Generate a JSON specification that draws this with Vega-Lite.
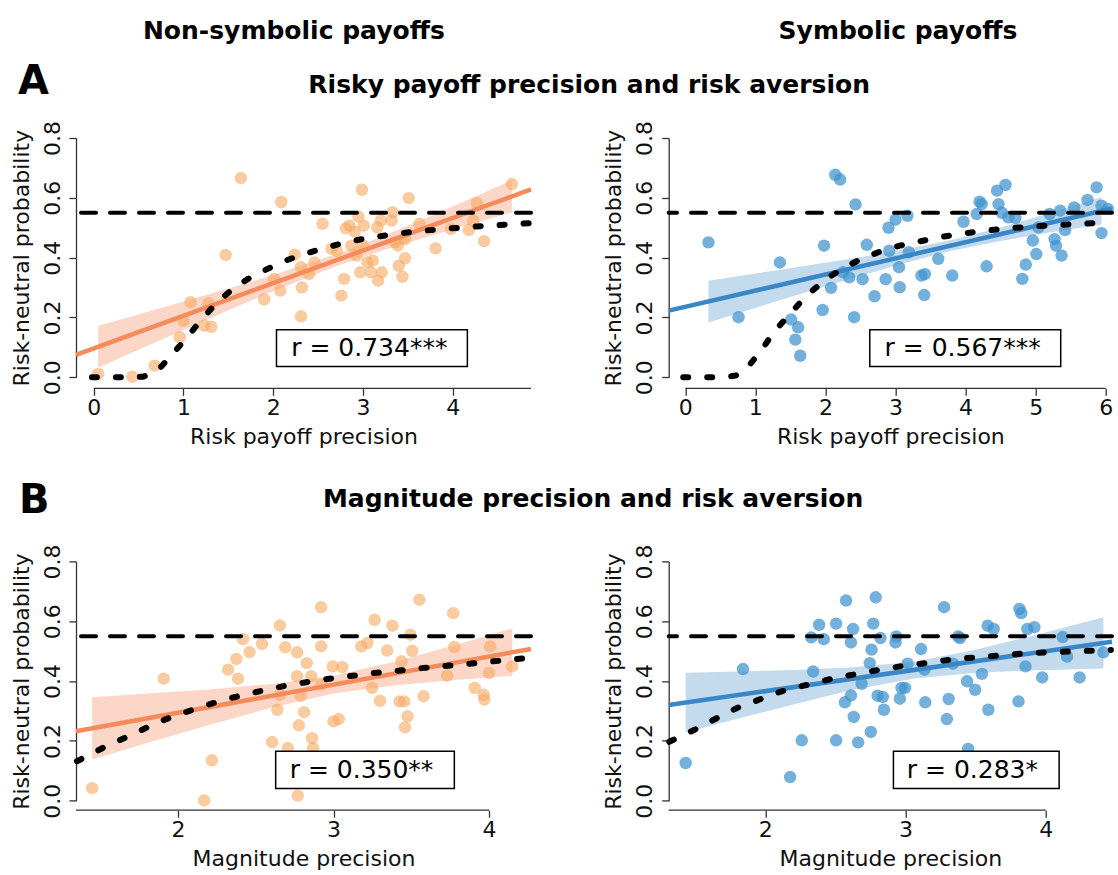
{
"$schema": "https://vega.github.io/schema/vega-lite/v6.json",
"usermeta": {"embedOptions": {"actions": false}},
"background": "white",
"padding": {"left": 9, "top": 18, "right": 0, "bottom": 0},
"autosize": {"type": "pad"},
"bounds": "flush",
"columns": 2,
"spacing": {"row": 183.4, "column": 137.7},
"config": {
  "view": {"stroke": null},
  "font": "DejaVu Sans",
  "text": {"font": "DejaVu Sans", "color": "black"},
  "axis": {"grid": false, "labelFont": "DejaVu Sans", "titleFont": "DejaVu Sans", "labelFontSize": 22, "titleFontSize": 22, "titleFontWeight": "normal", "labelColor": "#111", "titleColor": "#111", "domainColor": "#333", "tickColor": "#333", "domainWidth": 1.3, "tickWidth": 1.3, "tickSize": 7, "labelFlush": false, "labelOverlap": false},
  "axisY": {"labelAngle": 270, "labelAlign": "center", "labelBaseline": "alphabetic", "labelPadding": 10, "titlePadding": 13, "titleBaseline": "alphabetic", "format": ".1f"},
  "axisX": {"domain": false, "labelPadding": 2, "titlePadding": 8, "format": "d"}
},
"datasets": {
  "AL_pts": [{"x":0.05,"y":0.011},{"x":0.43,"y":0.002},{"x":0.68,"y":0.039},{"x":0.96,"y":0.134},{"x":1.00,"y":0.189},{"x":1.08,"y":0.251},{"x":1.23,"y":0.173},{"x":1.31,"y":0.169},{"x":1.28,"y":0.248},{"x":1.47,"y":0.409},{"x":1.64,"y":0.666},{"x":1.90,"y":0.261},{"x":2.01,"y":0.329},{"x":2.08,"y":0.290},{"x":2.09,"y":0.586},{"x":2.24,"y":0.410},{"x":2.31,"y":0.368},{"x":2.32,"y":0.300},{"x":2.31,"y":0.204},{"x":2.40,"y":0.345},{"x":2.46,"y":0.384},{"x":2.55,"y":0.513},{"x":2.71,"y":0.423},{"x":2.76,"y":0.273},{"x":2.79,"y":0.329},{"x":2.81,"y":0.498},{"x":2.85,"y":0.507},{"x":2.91,"y":0.487},{"x":2.93,"y":0.407},{"x":2.95,"y":0.537},{"x":2.97,"y":0.351},{"x":2.99,"y":0.627},{"x":3.01,"y":0.507},{"x":3.00,"y":0.440},{"x":3.05,"y":0.384},{"x":3.09,"y":0.351},{"x":3.11,"y":0.390},{"x":3.17,"y":0.323},{"x":3.16,"y":0.501},{"x":3.20,"y":0.524},{"x":3.21,"y":0.351},{"x":3.32,"y":0.524},{"x":3.33,"y":0.552},{"x":3.36,"y":0.451},{"x":3.39,"y":0.440},{"x":3.40,"y":0.373},{"x":3.44,"y":0.336},{"x":3.47,"y":0.398},{"x":3.47,"y":0.462},{"x":3.51,"y":0.599},{"x":3.63,"y":0.513},{"x":3.81,"y":0.431},{"x":3.98,"y":0.496},{"x":4.18,"y":0.492},{"x":4.27,"y":0.582},{"x":4.23,"y":0.524},{"x":4.35,"y":0.455},{"x":4.66,"y":0.646},{"x":2.87,"y":0.44},{"x":2.65,"y":0.43}],
  "AL_band": [{"x":0.05,"lo":0.032,"hi":0.172},{"x":0.5,"lo":0.092,"hi":0.210},{"x":1.0,"lo":0.158,"hi":0.253},{"x":1.5,"lo":0.224,"hi":0.297},{"x":2.0,"lo":0.288,"hi":0.342},{"x":2.7,"lo":0.371,"hi":0.411},{"x":3.2,"lo":0.422,"hi":0.469},{"x":3.7,"lo":0.468,"hi":0.532},{"x":4.2,"lo":0.512,"hi":0.598},{"x":4.66,"lo":0.551,"hi":0.658}],
  "AL_fit": [{"x":-0.197,"y":0.075},{"x":4.873,"y":0.628}],
  "AL_curve": [{"x":-0.02,"y":0},{"x":0.2,"y":0},{"x":0.4,"y":0},{"x":0.55,"y":0.002},{"x":0.65,"y":0.012},{"x":0.75,"y":0.035},{"x":0.88,"y":0.078},{"x":1.04,"y":0.134},{"x":1.2,"y":0.192},{"x":1.36,"y":0.246},{"x":1.54,"y":0.293},{"x":1.72,"y":0.329},{"x":1.9,"y":0.357},{"x":2.12,"y":0.388},{"x":2.32,"y":0.41},{"x":2.56,"y":0.431},{"x":2.77,"y":0.448},{"x":2.99,"y":0.462},{"x":3.25,"y":0.474},{"x":3.51,"y":0.485},{"x":3.75,"y":0.492},{"x":3.99,"y":0.498},{"x":4.25,"y":0.504},{"x":4.51,"y":0.509},{"x":4.74,"y":0.513},{"x":4.85,"y":0.515}],
  "AR_pts": [{"x":0.33,"y":0.451},{"x":0.76,"y":0.201},{"x":1.35,"y":0.384},{"x":1.51,"y":0.193},{"x":1.57,"y":0.126},{"x":1.61,"y":0.167},{"x":1.64,"y":0.072},{"x":1.96,"y":0.225},{"x":1.98,"y":0.440},{"x":2.08,"y":0.299},{"x":2.14,"y":0.677},{"x":2.21,"y":0.661},{"x":2.25,"y":0.351},{"x":2.34,"y":0.334},{"x":2.43,"y":0.578},{"x":2.41,"y":0.201},{"x":2.53,"y":0.328},{"x":2.59,"y":0.443},{"x":2.70,"y":0.271},{"x":2.86,"y":0.328},{"x":2.90,"y":0.500},{"x":3.00,"y":0.527},{"x":2.91,"y":0.423},{"x":3.05,"y":0.368},{"x":3.06,"y":0.301},{"x":3.17,"y":0.540},{"x":3.19,"y":0.418},{"x":3.37,"y":0.340},{"x":3.42,"y":0.345},{"x":3.41,"y":0.275},{"x":3.61,"y":0.396},{"x":3.81,"y":0.340},{"x":3.97,"y":0.520},{"x":4.16,"y":0.546},{"x":4.20,"y":0.587},{"x":4.23,"y":0.579},{"x":4.30,"y":0.371},{"x":4.45,"y":0.624},{"x":4.47,"y":0.579},{"x":4.57,"y":0.643},{"x":4.61,"y":0.535},{"x":4.71,"y":0.533},{"x":4.81,"y":0.329},{"x":4.86,"y":0.377},{"x":4.96,"y":0.457},{"x":5.01,"y":0.412},{"x":5.04,"y":0.501},{"x":5.20,"y":0.546},{"x":5.27,"y":0.462},{"x":5.29,"y":0.440},{"x":5.35,"y":0.557},{"x":5.37,"y":0.407},{"x":5.42,"y":0.492},{"x":5.55,"y":0.568},{"x":5.74,"y":0.593},{"x":5.87,"y":0.635},{"x":5.94,"y":0.574},{"x":5.94,"y":0.482},{"x":6.03,"y":0.563},{"x":4.52,"y":0.55}],
  "AR_band": [{"x":0.33,"lo":0.183,"hi":0.323},{"x":1.0,"lo":0.232,"hi":0.347},{"x":1.7,"lo":0.283,"hi":0.372},{"x":2.4,"lo":0.333,"hi":0.398},{"x":3.1,"lo":0.380,"hi":0.426},{"x":3.8,"lo":0.423,"hi":0.459},{"x":4.5,"lo":0.456,"hi":0.501},{"x":5.2,"lo":0.484,"hi":0.549},{"x":5.94,"lo":0.511,"hi":0.602}],
  "AR_fit": [{"x":-0.237,"y":0.2228},{"x":6.09,"y":0.5645}],
  "AR_curve": [{"x":-0.03,"y":0},{"x":0.3,"y":0},{"x":0.6,"y":0.001},{"x":0.72,"y":0.006},{"x":0.93,"y":0.045},{"x":1.1,"y":0.095},{"x":1.26,"y":0.15},{"x":1.43,"y":0.195},{"x":1.64,"y":0.25},{"x":1.84,"y":0.295},{"x":2.05,"y":0.335},{"x":2.28,"y":0.368},{"x":2.53,"y":0.398},{"x":2.79,"y":0.421},{"x":3.06,"y":0.44},{"x":3.34,"y":0.454},{"x":3.65,"y":0.469},{"x":3.98,"y":0.481},{"x":4.28,"y":0.49},{"x":4.61,"y":0.498},{"x":4.94,"y":0.504},{"x":5.3,"y":0.509},{"x":5.6,"y":0.513},{"x":5.96,"y":0.517},{"x":6.08,"y":0.519}],
  "BL_pts": [{"x":1.448,"y":0.042},{"x":1.908,"y":0.408},{"x":2.168,"y":0.001},{"x":2.218,"y":0.135},{"x":2.322,"y":0.438},{"x":2.375,"y":0.474},{"x":2.386,"y":0.408},{"x":2.418,"y":0.540},{"x":2.460,"y":0.497},{"x":2.540,"y":0.524},{"x":2.605,"y":0.196},{"x":2.639,"y":0.304},{"x":2.655,"y":0.586},{"x":2.655,"y":0.354},{"x":2.690,"y":0.513},{"x":2.706,"y":0.176},{"x":2.766,"y":0.496},{"x":2.766,"y":0.416},{"x":2.777,"y":0.252},{"x":2.770,"y":0.017},{"x":2.789,"y":0.351},{"x":2.811,"y":0.296},{"x":2.828,"y":0.460},{"x":2.857,"y":0.416},{"x":2.862,"y":0.209},{"x":2.869,"y":0.176},{"x":2.920,"y":0.647},{"x":2.920,"y":0.516},{"x":2.920,"y":0.388},{"x":2.995,"y":0.449},{"x":3.000,"y":0.265},{"x":3.034,"y":0.273},{"x":3.057,"y":0.447},{"x":3.179,"y":0.516},{"x":3.218,"y":0.527},{"x":3.248,"y":0.377},{"x":3.264,"y":0.605},{"x":3.299,"y":0.334},{"x":3.345,"y":0.502},{"x":3.379,"y":0.585},{"x":3.425,"y":0.332},{"x":3.437,"y":0.466},{"x":3.455,"y":0.332},{"x":3.460,"y":0.245},{"x":3.476,"y":0.282},{"x":3.494,"y":0.555},{"x":3.506,"y":0.501},{"x":3.552,"y":0.672},{"x":3.579,"y":0.349},{"x":3.731,"y":0.418},{"x":3.770,"y":0.627},{"x":3.777,"y":0.514},{"x":3.908,"y":0.377},{"x":3.966,"y":0.354},{"x":3.970,"y":0.338},{"x":4.000,"y":0.427},{"x":4.007,"y":0.516},{"x":4.149,"y":0.449}],
  "BL_band": [{"x":1.448,"lo":0.138,"hi":0.346},{"x":1.8,"lo":0.193,"hi":0.358},{"x":2.2,"lo":0.253,"hi":0.372},{"x":2.6,"lo":0.311,"hi":0.390},{"x":3.0,"lo":0.358,"hi":0.418},{"x":3.4,"lo":0.386,"hi":0.465},{"x":3.8,"lo":0.404,"hi":0.523},{"x":4.149,"lo":0.417,"hi":0.576}],
  "BL_fit": [{"x":1.344,"y":0.2324},{"x":4.270,"y":0.5074}],
  "BL_curve": [{"x":1.35,"y":0.132},{"x":1.37,"y":0.137},{"x":1.53,"y":0.18},{"x":1.67,"y":0.213},{"x":1.81,"y":0.247},{"x":1.92,"y":0.272},{"x":2.06,"y":0.298},{"x":2.2,"y":0.322},{"x":2.33,"y":0.342},{"x":2.46,"y":0.358},{"x":2.6,"y":0.375},{"x":2.72,"y":0.387},{"x":2.86,"y":0.399},{"x":3.0,"y":0.41},{"x":3.14,"y":0.419},{"x":3.28,"y":0.428},{"x":3.44,"y":0.436},{"x":3.58,"y":0.444},{"x":3.71,"y":0.45},{"x":3.87,"y":0.458},{"x":4.01,"y":0.465},{"x":4.15,"y":0.472},{"x":4.26,"y":0.478}],
  "BR_pts": [{"x":1.432,"y":0.126},{"x":1.841,"y":0.440},{"x":2.177,"y":0.079},{"x":2.260,"y":0.202},{"x":2.328,"y":0.546},{"x":2.341,"y":0.432},{"x":2.384,"y":0.588},{"x":2.417,"y":0.540},{"x":2.505,"y":0.592},{"x":2.505,"y":0.202},{"x":2.576,"y":0.669},{"x":2.568,"y":0.329},{"x":2.611,"y":0.352},{"x":2.611,"y":0.529},{"x":2.626,"y":0.574},{"x":2.631,"y":0.280},{"x":2.662,"y":0.195},{"x":2.687,"y":0.391},{"x":2.753,"y":0.230},{"x":2.758,"y":0.505},{"x":2.745,"y":0.460},{"x":2.770,"y":0.592},{"x":2.788,"y":0.680},{"x":2.801,"y":0.351},{"x":2.821,"y":0.544},{"x":2.838,"y":0.347},{"x":2.846,"y":0.304},{"x":2.929,"y":0.529},{"x":2.934,"y":0.549},{"x":2.960,"y":0.341},{"x":2.972,"y":0.377},{"x":2.997,"y":0.377},{"x":3.015,"y":0.458},{"x":3.111,"y":0.507},{"x":3.136,"y":0.438},{"x":3.141,"y":0.329},{"x":3.275,"y":0.647},{"x":3.295,"y":0.273},{"x":3.308,"y":0.340},{"x":3.338,"y":0.458},{"x":3.376,"y":0.549},{"x":3.389,"y":0.544},{"x":3.439,"y":0.399},{"x":3.447,"y":0.173},{"x":3.497,"y":0.371},{"x":3.545,"y":0.424},{"x":3.586,"y":0.585},{"x":3.591,"y":0.304},{"x":3.629,"y":0.574},{"x":3.806,"y":0.332},{"x":3.813,"y":0.641},{"x":3.826,"y":0.627},{"x":3.856,"y":0.449},{"x":3.869,"y":0.574},{"x":3.919,"y":0.580},{"x":3.975,"y":0.412},{"x":4.121,"y":0.547},{"x":4.152,"y":0.482},{"x":4.242,"y":0.412},{"x":4.412,"y":0.496}],
  "BR_band": [{"x":1.432,"lo":0.228,"hi":0.428},{"x":1.8,"lo":0.274,"hi":0.432},{"x":2.2,"lo":0.322,"hi":0.437},{"x":2.6,"lo":0.368,"hi":0.445},{"x":3.05,"lo":0.408,"hi":0.464},{"x":3.5,"lo":0.428,"hi":0.505},{"x":3.9,"lo":0.435,"hi":0.551},{"x":4.412,"lo":0.442,"hi":0.613}],
  "BR_fit": [{"x":1.311,"y":0.3202},{"x":4.473,"y":0.5314}],
  "BR_curve": [{"x":1.315,"y":0.197},{"x":1.338,"y":0.202},{"x":1.495,"y":0.237},{"x":1.646,"y":0.274},{"x":1.798,"y":0.31},{"x":1.924,"y":0.332},{"x":2.063,"y":0.358},{"x":2.202,"y":0.377},{"x":2.354,"y":0.393},{"x":2.492,"y":0.41},{"x":2.644,"y":0.423},{"x":2.795,"y":0.436},{"x":2.96,"y":0.449},{"x":3.111,"y":0.458},{"x":3.263,"y":0.468},{"x":3.414,"y":0.476},{"x":3.578,"y":0.482},{"x":3.742,"y":0.488},{"x":3.894,"y":0.494},{"x":4.071,"y":0.497},{"x":4.222,"y":0.5},{"x":4.412,"y":0.503},{"x":4.465,"y":0.504}]
},
"concat": [
  {"width": 455, "height": 239.3,
   "layer": [
    {"data": {"name": "AL_band"}, "mark": {"type": "area", "color": "#F58A5B", "opacity": 0.35},
     "encoding": {"x": {"field": "x", "type": "quantitative", "title": "Risk payoff precision", "scale": {"domain": [-0.197, 4.873], "nice": false, "zero": false}, "axis": {"values": [0,1,2,3,4], "offset": 11}},
                  "y": {"field": "lo", "type": "quantitative", "title": "Risk-neutral probability", "scale": {"domain": [0, 0.8], "nice": false, "zero": false}, "axis": {"values": [0,0.2,0.4,0.6,0.8]}},
                  "y2": {"field": "hi"}}},
    {"data": {"name": "AL_pts"}, "mark": {"type": "circle", "size": 155, "color": "#F8A860", "opacity": 0.6},
     "encoding": {"x": {"field": "x", "type": "quantitative", "title": "Risk payoff precision", "scale": {"domain": [-0.197, 4.873], "nice": false, "zero": false}},
                  "y": {"field": "y", "type": "quantitative", "title": "Risk-neutral probability", "scale": {"domain": [0, 0.8], "nice": false, "zero": false}}}},
    {"data": {"name": "AL_fit"}, "mark": {"type": "line", "color": "#F58A5B", "strokeWidth": 4.5},
     "encoding": {"x": {"field": "x", "type": "quantitative", "title": "Risk payoff precision", "scale": {"domain": [-0.197, 4.873], "nice": false, "zero": false}},
                  "y": {"field": "y", "type": "quantitative", "title": "Risk-neutral probability", "scale": {"domain": [0, 0.8], "nice": false, "zero": false}}}},
    {"data": {"values": [{}]}, "mark": {"type": "rule", "color": "black", "strokeWidth": 4, "strokeDash": [15, 14], "strokeCap": "round"}, "encoding": {"y": {"datum": 0.55}}},
    {"data": {"name": "AL_curve"}, "mark": {"type": "line", "color": "black", "strokeWidth": 6, "strokeDash": [5, 19], "strokeCap": "round"},
     "encoding": {"x": {"field": "x", "type": "quantitative", "title": "Risk payoff precision", "scale": {"domain": [-0.197, 4.873], "nice": false, "zero": false}},
                  "y": {"field": "y", "type": "quantitative", "title": "Risk-neutral probability", "scale": {"domain": [0, 0.8], "nice": false, "zero": false}}}},
    {"data": {"values": [{}]}, "mark": {"type": "rule", "color": "#333", "strokeWidth": 1.3}, "encoding": {"x": {"datum": 0}, "x2": {"datum": 4.873}, "y": {"datum": -0.0368}}},
    {"data": {"values": [{}]}, "mark": {"type": "rect", "fill": "white", "stroke": "black", "strokeWidth": 1.5}, "encoding": {"x": {"datum": 2.037}, "x2": {"datum": 4.164}, "y": {"datum": 0.0357}, "y2": {"datum": 0.159}}},
    {"data": {"values": [{"t": "r = 0.734***"}]}, "mark": {"type": "text", "fontSize": 25, "align": "center", "baseline": "middle"}, "encoding": {"x": {"datum": 3.071}, "y": {"datum": 0.097}, "text": {"field": "t"}}},
    {"data": {"values": [{"t": "Non-symbolic payoffs"}]}, "mark": {"type": "text", "fontSize": 25, "fontWeight": "bold", "align": "center", "baseline": "alphabetic"}, "encoding": {"x": {"datum": 2.2305}, "y": {"datum": 1.1314}, "text": {"field": "t"}}},
    {"data": {"values": [{"t": "A"}]}, "mark": {"type": "text", "fontSize": 40, "fontWeight": "bold", "align": "left", "baseline": "alphabetic"}, "encoding": {"x": {"datum": -0.843}, "y": {"datum": 0.9475}, "text": {"field": "t"}}},
    {"data": {"values": [{"t": "Risky payoff precision and risk aversion"}]}, "mark": {"type": "text", "fontSize": 25, "fontWeight": "bold", "align": "center", "baseline": "alphabetic"}, "encoding": {"x": {"datum": 5.521}, "y": {"datum": 0.95}, "text": {"field": "t"}}}
   ]},
  {"width": 443.3, "height": 239.3,
   "layer": [
    {"data": {"name": "AR_band"}, "mark": {"type": "area", "color": "#3A87C8", "opacity": 0.3},
     "encoding": {"x": {"field": "x", "type": "quantitative", "title": "Risk payoff precision", "scale": {"domain": [-0.237, 6.09], "nice": false, "zero": false}, "axis": {"values": [0,1,2,3,4,5,6], "offset": 11}},
                  "y": {"field": "lo", "type": "quantitative", "title": "Risk-neutral probability", "scale": {"domain": [0, 0.8], "nice": false, "zero": false}, "axis": {"values": [0,0.2,0.4,0.6,0.8]}},
                  "y2": {"field": "hi"}}},
    {"data": {"name": "AR_pts"}, "mark": {"type": "circle", "size": 155, "color": "#3D93CF", "opacity": 0.72},
     "encoding": {"x": {"field": "x", "type": "quantitative", "title": "Risk payoff precision", "scale": {"domain": [-0.237, 6.09], "nice": false, "zero": false}},
                  "y": {"field": "y", "type": "quantitative", "title": "Risk-neutral probability", "scale": {"domain": [0, 0.8], "nice": false, "zero": false}}}},
    {"data": {"name": "AR_fit"}, "mark": {"type": "line", "color": "#3A87C8", "strokeWidth": 4.5},
     "encoding": {"x": {"field": "x", "type": "quantitative", "title": "Risk payoff precision", "scale": {"domain": [-0.237, 6.09], "nice": false, "zero": false}},
                  "y": {"field": "y", "type": "quantitative", "title": "Risk-neutral probability", "scale": {"domain": [0, 0.8], "nice": false, "zero": false}}}},
    {"data": {"values": [{}]}, "mark": {"type": "rule", "color": "black", "strokeWidth": 4, "strokeDash": [15, 14], "strokeCap": "round"}, "encoding": {"y": {"datum": 0.55}}},
    {"data": {"name": "AR_curve"}, "mark": {"type": "line", "color": "black", "strokeWidth": 6, "strokeDash": [5, 19], "strokeCap": "round"},
     "encoding": {"x": {"field": "x", "type": "quantitative", "title": "Risk payoff precision", "scale": {"domain": [-0.237, 6.09], "nice": false, "zero": false}},
                  "y": {"field": "y", "type": "quantitative", "title": "Risk-neutral probability", "scale": {"domain": [0, 0.8], "nice": false, "zero": false}}}},
    {"data": {"values": [{}]}, "mark": {"type": "rule", "color": "#333", "strokeWidth": 1.3}, "encoding": {"x": {"datum": 0}, "x2": {"datum": 6}, "y": {"datum": -0.0368}}},
    {"data": {"values": [{}]}, "mark": {"type": "rect", "fill": "white", "stroke": "black", "strokeWidth": 1.5}, "encoding": {"x": {"datum": 2.633}, "x2": {"datum": 5.358}, "y": {"datum": 0.0357}, "y2": {"datum": 0.159}}},
    {"data": {"values": [{"t": "r = 0.567***"}]}, "mark": {"type": "text", "fontSize": 25, "align": "center", "baseline": "middle"}, "encoding": {"x": {"datum": 3.958}, "y": {"datum": 0.097}, "text": {"field": "t"}}},
    {"data": {"values": [{"t": "Symbolic payoffs"}]}, "mark": {"type": "text", "fontSize": 25, "fontWeight": "bold", "align": "center", "baseline": "alphabetic"}, "encoding": {"x": {"datum": 3.035}, "y": {"datum": 1.1314}, "text": {"field": "t"}}}
   ]},
  {"width": 455, "height": 239.3,
   "layer": [
    {"data": {"name": "BL_band"}, "mark": {"type": "area", "color": "#F58A5B", "opacity": 0.35},
     "encoding": {"x": {"field": "x", "type": "quantitative", "title": "Magnitude precision", "scale": {"domain": [1.344, 4.270], "nice": false, "zero": false}, "axis": {"values": [2,3,4], "offset": 9.5}},
                  "y": {"field": "lo", "type": "quantitative", "title": "Risk-neutral probability", "scale": {"domain": [0, 0.8], "nice": false, "zero": false}, "axis": {"values": [0,0.2,0.4,0.6,0.8]}},
                  "y2": {"field": "hi"}}},
    {"data": {"name": "BL_pts"}, "mark": {"type": "circle", "size": 155, "color": "#F8A860", "opacity": 0.6},
     "encoding": {"x": {"field": "x", "type": "quantitative", "title": "Magnitude precision", "scale": {"domain": [1.344, 4.270], "nice": false, "zero": false}},
                  "y": {"field": "y", "type": "quantitative", "title": "Risk-neutral probability", "scale": {"domain": [0, 0.8], "nice": false, "zero": false}}}},
    {"data": {"name": "BL_fit"}, "mark": {"type": "line", "color": "#F58A5B", "strokeWidth": 4.5},
     "encoding": {"x": {"field": "x", "type": "quantitative", "title": "Magnitude precision", "scale": {"domain": [1.344, 4.270], "nice": false, "zero": false}},
                  "y": {"field": "y", "type": "quantitative", "title": "Risk-neutral probability", "scale": {"domain": [0, 0.8], "nice": false, "zero": false}}}},
    {"data": {"values": [{}]}, "mark": {"type": "rule", "color": "black", "strokeWidth": 4, "strokeDash": [15, 14], "strokeCap": "round"}, "encoding": {"y": {"datum": 0.55}}},
    {"data": {"name": "BL_curve"}, "mark": {"type": "line", "color": "black", "strokeWidth": 6, "strokeDash": [5, 19], "strokeCap": "round"},
     "encoding": {"x": {"field": "x", "type": "quantitative", "title": "Magnitude precision", "scale": {"domain": [1.344, 4.270], "nice": false, "zero": false}},
                  "y": {"field": "y", "type": "quantitative", "title": "Risk-neutral probability", "scale": {"domain": [0, 0.8], "nice": false, "zero": false}}}},
    {"data": {"values": [{}]}, "mark": {"type": "rule", "color": "#333", "strokeWidth": 1.3}, "encoding": {"x": {"datum": 1.344}, "x2": {"datum": 4}, "y": {"datum": -0.0318}}},
    {"data": {"values": [{}]}, "mark": {"type": "rect", "fill": "white", "stroke": "black", "strokeWidth": 1.5}, "encoding": {"x": {"datum": 2.628}, "x2": {"datum": 3.777}, "y": {"datum": 0.041}, "y2": {"datum": 0.165}}},
    {"data": {"values": [{"t": "r = 0.350**"}]}, "mark": {"type": "text", "fontSize": 25, "align": "center", "baseline": "middle"}, "encoding": {"x": {"datum": 3.18}, "y": {"datum": 0.103}, "text": {"field": "t"}}},
    {"data": {"values": [{"t": "B"}]}, "mark": {"type": "text", "fontSize": 40, "fontWeight": "bold", "align": "left", "baseline": "alphabetic"}, "encoding": {"x": {"datum": 0.9775}, "y": {"datum": 0.962}, "text": {"field": "t"}}},
    {"data": {"values": [{"t": "Magnitude precision and risk aversion"}]}, "mark": {"type": "text", "fontSize": 25, "fontWeight": "bold", "align": "center", "baseline": "alphabetic"}, "encoding": {"x": {"datum": 4.669}, "y": {"datum": 0.981}, "text": {"field": "t"}}}
   ]},
  {"width": 443.3, "height": 239.3,
   "layer": [
    {"data": {"name": "BR_band"}, "mark": {"type": "area", "color": "#3A87C8", "opacity": 0.3},
     "encoding": {"x": {"field": "x", "type": "quantitative", "title": "Magnitude precision", "scale": {"domain": [1.311, 4.473], "nice": false, "zero": false}, "axis": {"values": [2,3,4], "offset": 9.5}},
                  "y": {"field": "lo", "type": "quantitative", "title": "Risk-neutral probability", "scale": {"domain": [0, 0.8], "nice": false, "zero": false}, "axis": {"values": [0,0.2,0.4,0.6,0.8]}},
                  "y2": {"field": "hi"}}},
    {"data": {"name": "BR_pts"}, "mark": {"type": "circle", "size": 155, "color": "#3D93CF", "opacity": 0.72},
     "encoding": {"x": {"field": "x", "type": "quantitative", "title": "Magnitude precision", "scale": {"domain": [1.311, 4.473], "nice": false, "zero": false}},
                  "y": {"field": "y", "type": "quantitative", "title": "Risk-neutral probability", "scale": {"domain": [0, 0.8], "nice": false, "zero": false}}}},
    {"data": {"name": "BR_fit"}, "mark": {"type": "line", "color": "#3A87C8", "strokeWidth": 4.5},
     "encoding": {"x": {"field": "x", "type": "quantitative", "title": "Magnitude precision", "scale": {"domain": [1.311, 4.473], "nice": false, "zero": false}},
                  "y": {"field": "y", "type": "quantitative", "title": "Risk-neutral probability", "scale": {"domain": [0, 0.8], "nice": false, "zero": false}}}},
    {"data": {"values": [{}]}, "mark": {"type": "rule", "color": "black", "strokeWidth": 4, "strokeDash": [15, 14], "strokeCap": "round"}, "encoding": {"y": {"datum": 0.55}}},
    {"data": {"name": "BR_curve"}, "mark": {"type": "line", "color": "black", "strokeWidth": 6, "strokeDash": [5, 19], "strokeCap": "round"},
     "encoding": {"x": {"field": "x", "type": "quantitative", "title": "Magnitude precision", "scale": {"domain": [1.311, 4.473], "nice": false, "zero": false}},
                  "y": {"field": "y", "type": "quantitative", "title": "Risk-neutral probability", "scale": {"domain": [0, 0.8], "nice": false, "zero": false}}}},
    {"data": {"values": [{}]}, "mark": {"type": "rule", "color": "#333", "strokeWidth": 1.3}, "encoding": {"x": {"datum": 1.311}, "x2": {"datum": 4}, "y": {"datum": -0.0318}}},
    {"data": {"values": [{}]}, "mark": {"type": "rect", "fill": "white", "stroke": "black", "strokeWidth": 1.5}, "encoding": {"x": {"datum": 2.914}, "x2": {"datum": 4.096}, "y": {"datum": 0.041}, "y2": {"datum": 0.165}}},
    {"data": {"values": [{"t": "r = 0.283*"}]}, "mark": {"type": "text", "fontSize": 25, "align": "center", "baseline": "middle"}, "encoding": {"x": {"datum": 3.477}, "y": {"datum": 0.103}, "text": {"field": "t"}}}
   ]}
]
}
